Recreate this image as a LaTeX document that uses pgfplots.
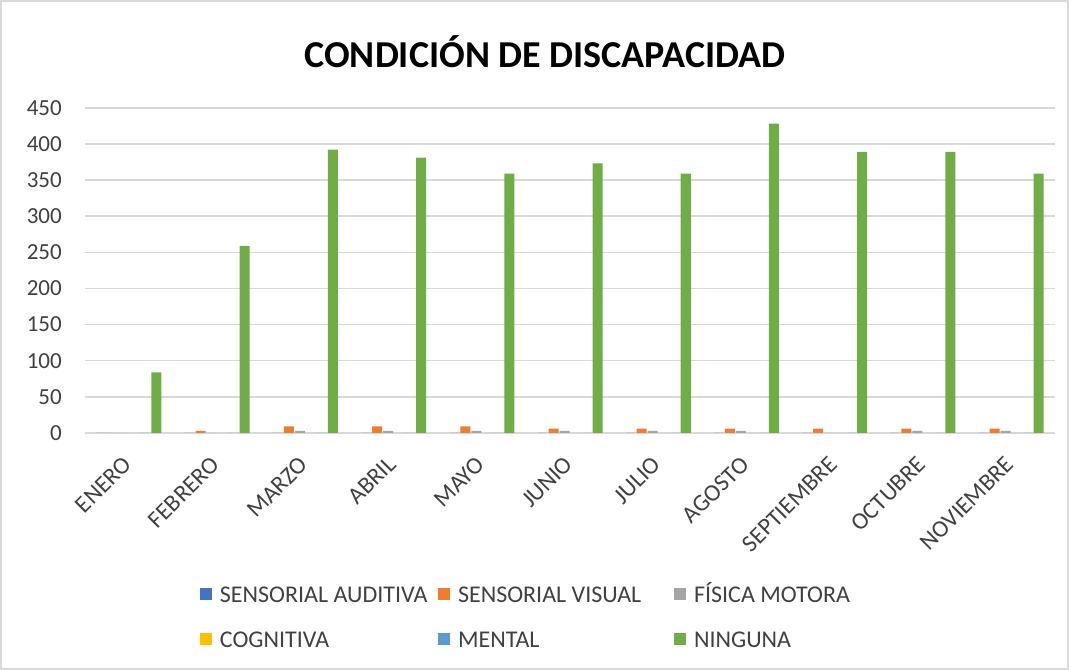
\documentclass[border=0pt]{standalone}
\usepackage{pgfplots}
\pgfplotsset{compat=1.18}
\usepackage{fontspec}
\setmainfont{Carlito}
\definecolor{cAud}{HTML}{4472C4}
\definecolor{cVis}{HTML}{ED7D31}
\definecolor{cFis}{HTML}{A5A5A5}
\definecolor{cCog}{HTML}{FFC000}
\definecolor{cMen}{HTML}{5B9BD5}
\definecolor{cNin}{HTML}{70AD47}
\definecolor{cGrid}{HTML}{D9D9D9}
\definecolor{cText}{HTML}{404040}
\newcommand{\legent}[2]{\makebox[#1][l]{\hspace{2pt}\vphantom{ÍÁ}#2}}
\begin{document}
\begin{tikzpicture}
\begin{axis}[
  scale only axis,
  width=485pt, height=162.5pt,
  xmin=-0.5, xmax=10.5,
  ymin=0, ymax=450,
  ytick={0,50,...,450},
  xtick={0,...,10},
  xticklabels={ENERO,FEBRERO,MARZO,ABRIL,MAYO,JUNIO,JULIO,AGOSTO,SEPTIEMBRE,OCTUBRE,NOVIEMBRE},
  xticklabel style={rotate=45, anchor=north east, inner sep=0pt, yshift=-5.1pt, xshift=-10.2pt, font=\fontsize{12}{14}\selectfont},
  yticklabel style={anchor=east, xshift=-8pt, font=\fontsize{11.5}{13}\selectfont},
  ymajorgrids, grid style={cGrid, line width=0.8pt},
  axis x line*=bottom, axis y line*=left,
  x axis line style={cGrid, line width=0.8pt, -},
  y axis line style={draw=none},
  major tick length=0pt,
  tick label style={text=cText},
  /pgf/number format/assume math mode=true,
  ybar=0.5pt, bar width=5pt,
  every axis plot/.append style={draw=none},
  legend columns=3,
  legend style={draw=none, at={(rel axis cs:0.112,-0.435)}, anchor=north west,
    font=\fontsize{12}{14}\selectfont, text=cText,
    /tikz/every even column/.append style={column sep=0pt},
    row sep=7pt},
  legend image code/.code={\fill[#1] (0pt,-3pt) rectangle (6pt,3pt);},
]
\addplot[fill=cAud] coordinates {(0,0) (1,0) (2,0) (3,0) (4,0) (5,0) (6,0) (7,0) (8,0) (9,0) (10,0)};
\addplot[fill=cVis] coordinates {(0,0) (1,3) (2,9) (3,9) (4,9) (5,6) (6,6) (7,6) (8,6) (9,6) (10,6)};
\addplot[fill=cFis] coordinates {(0,0) (1,0) (2,3) (3,3) (4,3) (5,3) (6,3) (7,3) (8,0) (9,3) (10,3)};
\addplot[fill=cCog] coordinates {(0,0) (1,0) (2,0) (3,0) (4,0) (5,0) (6,0) (7,0) (8,0) (9,0) (10,0)};
\addplot[fill=cMen] coordinates {(0,0) (1,0) (2,0) (3,0) (4,0) (5,0) (6,0) (7,0) (8,0) (9,0) (10,0)};
\addplot[fill=cNin] coordinates {(0,84) (1,259) (2,392) (3,381) (4,359) (5,373) (6,359) (7,428) (8,389) (9,389) (10,359)};
\legend{\legent{109pt}{SENSORIAL AUDITIVA},\legent{108pt}{SENSORIAL VISUAL},\legent{80pt}{FÍSICA MOTORA},\legent{109pt}{COGNITIVA},\legent{108pt}{MENTAL},\legent{80pt}{NINGUNA}}
\end{axis}
\node[font=\bfseries\fontsize{19}{22}\selectfont, text=black] at ([xshift=-12.5pt,yshift=28pt]current axis.north) {CONDICIÓN DE DISCAPACIDAD};
\draw[cGrid, line width=0.8pt] ([xshift=-42pt,yshift=-118pt]current axis.south west) rectangle ([xshift=6.5pt,yshift=53.5pt]current axis.north east);
\end{tikzpicture}
\end{document}
